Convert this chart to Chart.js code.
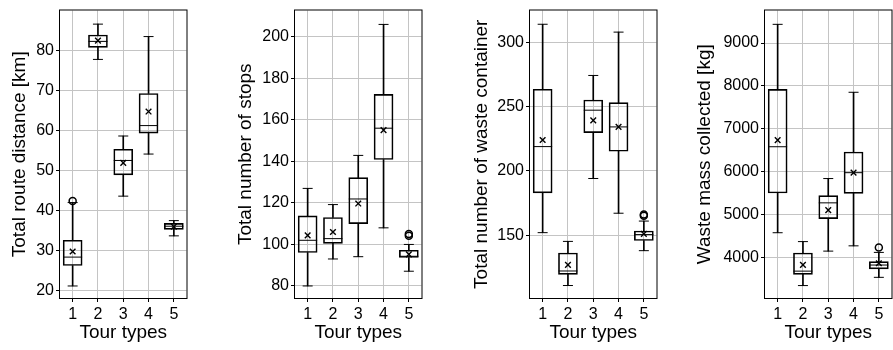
<!DOCTYPE html>
<html>
<head>
<meta charset="utf-8">
<script src="https://cdn.jsdelivr.net/npm/chart.js@4"></script>
<style>
html, body { margin: 0; padding: 0; background: #fff; }
body { width: 893px; height: 350px; position: relative; overflow: hidden; }
canvas { position: absolute; top: 0; }
</style>
</head>
<body>
<canvas id="c1" width="187" height="350" style="left:10px"></canvas>
<canvas id="c2" width="196" height="350" style="left:236px"></canvas>
<canvas id="c3" width="195" height="350" style="left:472px"></canvas>
<canvas id="c4" width="207" height="350" style="left:695px"></canvas>
<script>
const tours = ['1', '2', '3', '4', '5'];

// Total route distance [km]
const distTicks = [20, 30, 40, 50, 60, 70, 80];
const distLow  = [21.2, 77.7, 43.6, 54.1, 33.7];
const distQ1   = [26.3, 80.7, 48.9, 59.3, 35.3];
const distMed  = [28.4, 82.2, 52.5, 61.2, 36.1];
const distQ3   = [32.6, 83.8, 55.3, 69.2, 36.8];
const distHigh = [42.0, 86.5, 58.6, 83.4, 37.5];
const distMean = [29.8, 82.4, 51.9, 64.7, 36.0];
const distOut  = [[1, 42.4]];

// Total number of stops
const stopTicks = [80, 100, 120, 140, 160, 180, 200];
const stopLow  = [80, 93, 94.1, 108, 87.1];
const stopQ1   = [96.1, 100.5, 110, 140.9, 93.7];
const stopMed  = [102, 102.8, 121.9, 156, 94.3];
const stopQ3   = [113.8, 113, 132.2, 172.3, 97.2];
const stopHigh = [127, 119.2, 142.9, 206, 100];
const stopMean = [104.4, 106, 119.7, 155.1, 95.2];
const stopOut  = [[5, 104.2], [5, 105.0]];

// Total number of waste container
const contTicks = [150, 200, 250, 300];
const contLow  = [152, 110.9, 194.1, 167.1, 138];
const contQ1   = [182.9, 119.6, 229.8, 215.3, 145.9];
const contMed  = [218.9, 122.2, 247.2, 234.2, 150.5];
const contQ3   = [263.5, 136.2, 255.1, 253.1, 153.3];
const contHigh = [314, 145.2, 274.2, 307.9, 161];
const contMean = [224, 127, 239.3, 234.2, 151];
const contOut  = [[5, 165.2], [5, 166.2]];

// Waste mass collected [kg]
const massTicks = [4000, 5000, 6000, 7000, 8000, 9000];
const massLow  = [4574, 3341, 4145, 4268, 3533];
const massQ1   = [5501, 3602, 4904, 5493, 3732];
const massMed  = [6580, 3678, 5271, 5975, 3820];
const massQ3   = [7920, 4100, 5440, 6458, 3900];
const massHigh = [9436, 4367, 5838, 7851, 4115];
const massMean = [6733, 3824, 5103, 5975, 3862];
const massOut  = [[5, 4230]];

Chart.defaults.font.family = '"Liberation Sans", Arial, sans-serif';
Chart.defaults.color = '#000';

// black frame round the plot area
const frame = {
  id: 'frame',
  afterDatasetsDraw(chart) {
    const a = chart.chartArea, ctx = chart.ctx;
    ctx.save();
    ctx.strokeStyle = '#000';
    ctx.lineWidth = 1;
    ctx.strokeRect(a.left - 0.5, a.top - 0.5, a.right - a.left + 1, a.bottom - a.top + 1);
    ctx.restore();
  }
};

function boxChart(id, title, yWidth, yMin, yMax, yTicks, low, q1, med, q3, high, mean, out) {
  const seg = (a, b) => a.map((v, i) => [v, b[i]]);
  const marks = (data, style, r, w) => ({
    type: 'line', data: data, showLine: false, pointStyle: style, pointRadius: r,
    pointBorderWidth: w, pointBorderColor: '#000', pointBackgroundColor: 'transparent',
    borderColor: '#000', order: 2
  });
  new Chart(document.getElementById(id), {
    type: 'bar',
    data: {
      labels: tours,
      datasets: [
        { data: seg(low, q1), backgroundColor: '#000', barThickness: 1, grouped: false, order: 6 },
        { data: seg(q3, high), backgroundColor: '#000', barThickness: 1, grouped: false, order: 6 },
        { data: seg(q1, q3), backgroundColor: 'transparent', borderColor: '#000', borderWidth: 1,
          borderSkipped: false, barThickness: 19, grouped: false, order: 5 },
        marks(med, 'line', 9.5, 1),
        marks(low, 'line', 5, 1),
        marks(high, 'line', 5, 1),
        marks(mean, 'crossRot', 4, 1.4),
        marks(out.map(o => ({ x: tours[o[0] - 1], y: o[1] })), 'circle', 3.5, 1.5)
      ]
    },
    options: {
      responsive: false,
      animation: false,
      layout: { padding: { top: 6, right: 2, bottom: 0, left: 0 } },
      plugins: { legend: { display: false }, tooltip: { enabled: false } },
      scales: {
        x: {
          offset: true,
          grid: { offset: false, color: '#c4c4c4', tickColor: '#000', tickLength: 4 },
          border: { display: false },
          ticks: { font: { size: 16 }, padding: 3, maxRotation: 0 },
          title: { display: true, text: 'Tour types', font: { size: 19, lineHeight: 1 },
                   padding: { top: 0, bottom: 7.5 } },
          afterFit: s => { s.height = 52; s.paddingLeft = 0; s.paddingRight = 0; }
        },
        y: {
          min: yMin, max: yMax,
          grid: { color: '#c4c4c4', tickColor: '#000', tickLength: 4 },
          border: { display: false },
          ticks: { font: { size: 16 }, padding: 2, callback: v => String(v) },
          afterBuildTicks: s => { s.ticks = yTicks.map(v => ({ value: v })); },
          title: { display: true, text: title, font: { size: 19, lineHeight: 1 }, padding: 0 },
          afterFit: s => { s.width = yWidth; s.paddingTop = 0; s.paddingBottom = 0; }
        }
      }
    },
    plugins: [frame]
  });
}

boxChart('c1', 'Total route distance [km]', 50, 18.2, 89.9, distTicks,
  distLow, distQ1, distMed, distQ3, distHigh, distMean, distOut);
boxChart('c2', 'Total number of stops', 59, 74.2, 212.7, stopTicks,
  stopLow, stopQ1, stopMed, stopQ3, stopHigh, stopMean, stopOut);
boxChart('c3', 'Total number of waste container', 58, 101.2, 324.7, contTicks,
  contLow, contQ1, contMed, contQ3, contHigh, contMean, contOut);
boxChart('c4', 'Waste mass collected [kg]', 70, 3051, 9759, massTicks,
  massLow, massQ1, massMed, massQ3, massHigh, massMean, massOut);
</script>
</body>
</html>
